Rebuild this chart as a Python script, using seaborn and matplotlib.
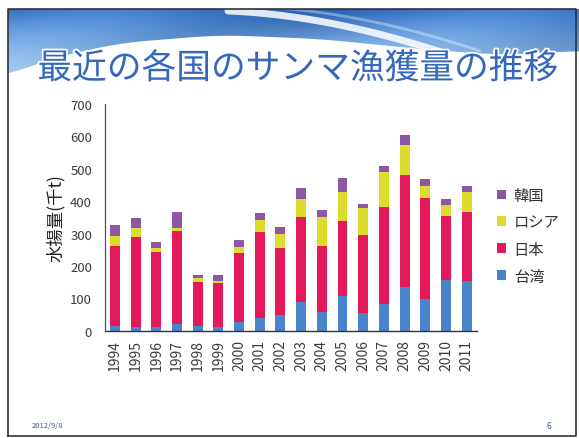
import numpy as np
import pandas as pd
import matplotlib
matplotlib.use("Agg")
import matplotlib.pyplot as plt
import matplotlib.patheffects as pe
from matplotlib.patches import Polygon, Patch
import seaborn as sns

# Saury catch by country (thousand tonnes)
years = ["1994", "1995", "1996", "1997", "1998", "1999", "2000", "2001", "2002",
         "2003", "2004", "2005", "2006", "2007", "2008", "2009", "2010", "2011"]
taiwan = [14, 12, 10, 21, 13, 12, 26, 39, 50, 88, 57, 108, 55, 82, 134, 98, 158, 154]
japan = [248, 276, 232, 288, 138, 134, 214, 265, 204, 264, 205, 232, 242, 299, 347, 311, 195, 212]
russia = [31, 28, 13, 7, 11, 8, 17, 39, 45, 55, 90, 89, 81, 110, 92, 39, 35, 63]
korea = [33, 31, 18, 50, 10, 19, 24, 20, 20, 33, 22, 42, 13, 19, 31, 20, 19, 19]

series_names = ["台湾", "日本", "ロシア", "韓国"]
series_colors = ["#4a84cc", "#e4195a", "#dcdc2c", "#8c58a6"]
title_text = "最近の各国のサンマ漁獲量の推移"
ylabel_text = "水揚量(千t)"
footer_date = "2012/9/8"
page_no = "6"

sns.set_style("white")
plt.rcParams["font.family"] = ["Noto Sans CJK JP", "DejaVu Sans"]

W, H = 579, 439
fig = plt.figure(figsize=(W / 100, H / 100), dpi=100)
fig.patch.set_facecolor("white")

# ---- slide background (pixel coordinates) ----
bg = fig.add_axes([0, 0, 1, 1], zorder=0)
bg.set_xlim(0, W)
bg.set_ylim(H, 0)
bg.axis("off")

# wavy blue header band
hx = np.linspace(8, W, 300)
cx = [8, 40, 120, 220, 320, 420, 500, 579]
cy = [78, 62, 44, 36, 40, 50, 56, 52]
hy = np.interp(hx, cx, cy)
hy = np.convolve(np.pad(hy, 15, mode="edge"), np.ones(31) / 31, mode="valid")
poly = np.vstack([np.column_stack([hx, hy]), [[W, 10], [8, 10]]])
band = Polygon(poly, closed=True, facecolor="none", edgecolor="none")
bg.add_patch(band)
gx = np.linspace(0, 1, 200)
gy = np.linspace(0, 1, 60)
GX, GY = np.meshgrid(gx, gy)
top_c = np.array([0.20, 0.44, 0.76])
bot_c = np.array([0.66, 0.80, 0.93])
mix = (GY ** 0.9)[..., None]
img = top_c * (1 - mix) + bot_c * mix
img = img + (0.06 * np.sin(GX * 9 + GY * 3))[..., None]
img = np.clip(img, 0, 1)
im = bg.imshow(img, extent=[8, W, 80, 10], aspect="auto", zorder=1)
im.set_clip_path(band)

# white swoosh across the header
t = np.linspace(0, 1, 100)
p0, p1, p2 = np.array([228, 12]), np.array([330, 16]), np.array([450, 56])
sw = (1 - t)[:, None] ** 2 * p0 + 2 * ((1 - t) * t)[:, None] * p1 + (t ** 2)[:, None] * p2
bg.plot(sw[:, 0], sw[:, 1], color="white", lw=5, alpha=0.85, zorder=2,
        solid_capstyle="round")
bg.plot(sw[:, 0] + 30, sw[:, 1] - 4, color="white", lw=2, alpha=0.35, zorder=2)

# page frame
bg.plot([8, 8, 576, 576, 8], [437, 10, 10, 437, 437], color="#333333", lw=1.2, zorder=3)

# slide title
bg.text(298, 70, title_text, fontsize=25, color="#3568bd", ha="center", va="center",
        zorder=4, path_effects=[pe.withStroke(linewidth=2.5, foreground="white")])

# footer
bg.text(32, 426, footer_date, fontsize=5.5, color="#3a55a0", ha="left", va="center",
        fontstyle="italic", zorder=4)
bg.text(549, 427, page_no, fontsize=6, color="#3a55a0", ha="center", va="center", zorder=4)

# ---- stacked bar chart ----
ax = fig.add_axes([104.6 / W, 1 - 331.7 / H, (477 - 104.6) / W, (331.7 - 105) / H], zorder=5)
ax.patch.set_alpha(0)

df = pd.DataFrame({"year": years, "台湾": taiwan, "日本": japan,
                   "ロシア": russia, "韓国": korea})
cum = df[series_names].cumsum(axis=1)

# draw the cumulative totals from the top layer down so each layer covers the one above
for name, color in reversed(list(zip(series_names, series_colors))):
    sns.barplot(x=df["year"], y=cum[name], order=years, color=color, width=0.48,
                saturation=1, linewidth=0, ax=ax)

ax.set_xlim(-0.5, len(years) - 0.5)
ax.set_ylim(0, 700)
ax.set_yticks(np.arange(0, 701, 100))
ax.set_yticklabels([str(v) for v in range(0, 701, 100)], fontsize=9.5, color="#3c3c3c")
ax.set_xticks(range(len(years)))
ax.set_xticklabels(years, rotation=90, fontsize=10, color="#3c3c3c")
ax.set_xticks(np.arange(-0.5, len(years)), minor=True)
ax.tick_params(axis="x", which="major", length=0, pad=6)
ax.tick_params(axis="x", which="minor", length=4, width=0.8, color="#555555", direction="out")
ax.tick_params(axis="y", which="major", length=3, width=0.8, color="#555555",
               direction="out", pad=6)
ax.set_xlabel("")
ax.set_ylabel(ylabel_text, fontsize=12.5, color="#222222", labelpad=4)
for side in ["top", "right"]:
    ax.spines[side].set_visible(False)
ax.spines["left"].set_color("#555555")
ax.spines["bottom"].set_color("#333333")
ax.spines["left"].set_linewidth(0.9)
ax.spines["bottom"].set_linewidth(1.0)
ax.grid(False)

handles = [Patch(facecolor=c, edgecolor="none", label=n)
           for n, c in reversed(list(zip(series_names, series_colors)))]
leg = fig.legend(handles=handles, loc="upper left", bbox_to_anchor=(483 / W, 1 - 174 / H),
                 frameon=False, fontsize=11, handlelength=0.6, handleheight=0.6,
                 handletextpad=0.5, labelspacing=0.65)
for txt in leg.get_texts():
    txt.set_color("#333333")

fig.savefig("out.png", dpi=100, facecolor="white")
